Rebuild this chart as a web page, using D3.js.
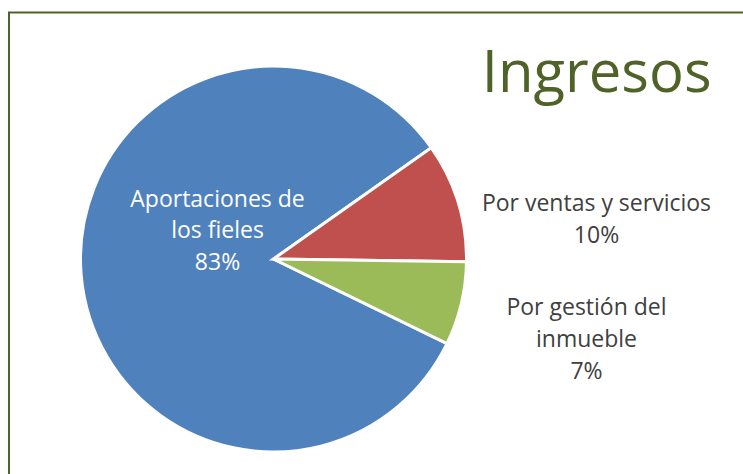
<!DOCTYPE html>
<html>
<head>
<meta charset="utf-8">
<script src="https://cdn.jsdelivr.net/npm/d3@7"></script>
<style>
  html, body { margin: 0; padding: 0; background: #fff; }
  svg { display: block; font-family: "Open Sans", "Noto Sans", sans-serif; }
</style>
</head>
<body>
<script>
const width = 743
const height = 474

// data
const categories = [['Aportaciones de', 'los fieles'], ['Por ventas y servicios'], ['Por gestión del', 'inmueble']]
const values = [83, 10, 7]
const colors = ['#4F81BD', '#C0504D', '#9BBB59']
const title = 'Ingresos'

// layout
const cx = 273.5, cy = 259, r = 193
const startDeg = 116
// label anchor (first baseline, centre) relative to pie centre
const labelAnchor = [[-56, -52.5], [323, -48], [313, 56]]
const labelColor = ['#FFFFFF', '#404040', '#404040']
const lineGap = 31.8

let svg = d3.select('body').append('svg')
    .attr('width', width)
    .attr('height', height)

// outer frame (runs off the right and bottom edge)
svg.append('rect')
    .attr('x', 9).attr('y', 12.5)
    .attr('width', width + 20).attr('height', height + 20)
    .attr('fill', 'none')
    .attr('stroke', '#4F6228')
    .attr('stroke-width', 2)

let total = d3.sum(values)
let pie = d3.pie().sort(null)
    .startAngle(startDeg * Math.PI / 180)
    .endAngle(startDeg * Math.PI / 180 + 2 * Math.PI)
let arc = d3.arc().innerRadius(0).outerRadius(r)

let g = svg.append('g').attr('transform', `translate(${cx},${cy})`)

g.selectAll('path')
    .data(pie(values))
    .join('path')
    .attr('d', arc)
    .attr('fill', (d, i) => colors[i])
    .attr('stroke', '#fff')
    .attr('stroke-width', 3)
    .attr('stroke-linejoin', 'miter')

// labels
categories.forEach(function(lines, i) {
    let all = lines.concat([Math.round(values[i] / total * 100) + '%'])
    let t = g.append('text')
        .attr('text-anchor', 'middle')
        .attr('font-size', 23)
        .attr('fill', labelColor[i])
    all.forEach(function(s, j) {
        t.append('tspan')
            .attr('x', labelAnchor[i][0])
            .attr('y', labelAnchor[i][1] + j * lineGap)
            .text(s)
    })
})

svg.append('text')
    .attr('x', 596.7)
    .attr('y', 91.7)
    .attr('text-anchor', 'middle')
    .attr('font-size', 58)
    .attr('fill', '#4F6228')
    .text(title)
</script>
</body>
</html>
